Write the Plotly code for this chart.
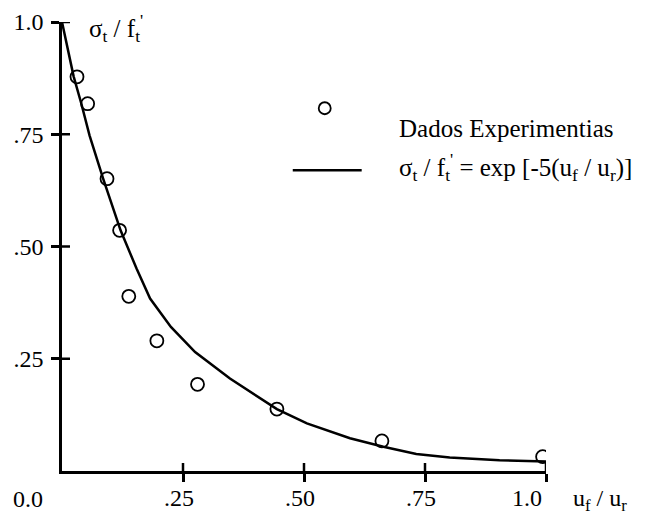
import plotly.graph_objects as go

# ---- data ----
exp_x = [0.031, 0.053, 0.093, 0.119, 0.138, 0.196, 0.280, 0.444, 0.661, 0.993]
exp_y = [0.878, 0.818, 0.651, 0.536, 0.389, 0.290, 0.193, 0.138, 0.067, 0.032]

curve_x = [0.0, 0.024, 0.040, 0.057, 0.085, 0.121, 0.154, 0.182, 0.225, 0.275,
           0.347, 0.409, 0.444, 0.506, 0.595, 0.664, 0.732, 0.801, 0.904, 1.0]
curve_y = [1.0, 0.879, 0.818, 0.747, 0.651, 0.536, 0.451, 0.384, 0.321, 0.265,
           0.206, 0.162, 0.138, 0.106, 0.073, 0.054, 0.038, 0.030, 0.024, 0.021]

tick_vals = [0.25, 0.50, 0.75, 1.0]
x_tick_text = [".25", ".50", ".75", "1.0\u00a0\u00a0\u00a0\u00a0\u00a0"]
y_tick_text = [".25", ".50", ".75", "1.0"]

FONT = "Liberation Serif"
W, H = 648, 515
L, R, T, B = 62, 101.5, 21.7, 44
PW, PH = W - L - R, H - T - B
TICKLEN = 8


def px(xpix):
    return (xpix - L) / PW


def py(ypix):
    return (H - B - ypix) / PH


fig = go.Figure()
fig.add_trace(go.Scatter(x=curve_x, y=curve_y, mode="lines",
                         line=dict(color="black", width=2.5),
                         name="σt / f't = exp [-5(uf / ur)]", showlegend=False,
                         hoverinfo="skip"))
fig.add_trace(go.Scatter(x=exp_x, y=exp_y, mode="markers",
                         marker=dict(symbol="circle-open", size=13,
                                     line=dict(color="black", width=1.8), color="black"),
                         name="Dados Experimentias", showlegend=False))

axis_common = dict(range=[0, 1], showgrid=False, zeroline=False, automargin=False,
                   tickvals=tick_vals, tickwidth=2.5, ticklen=TICKLEN,
                   tickcolor="black", ticks="outside",
                   showline=True, linecolor="black", linewidth=2.5,
                   tickfont=dict(family=FONT, size=24, color="black"))

fig.update_layout(
    width=W, height=H,
    margin=dict(l=L, r=R, t=T, b=B, pad=0, autoexpand=False),
    paper_bgcolor="white", plot_bgcolor="white",
    font=dict(family=FONT, size=24, color="black"),
    xaxis=dict(**axis_common, ticktext=x_tick_text, ticklabelshift=-4,
               ticklabelstandoff=-5),
    yaxis=dict(**axis_common, ticktext=y_tick_text, ticklabelstandoff=3),
    showlegend=False,
)

# inner half of the crossing tick marks (the axis draws the outer half)
for v in tick_vals:
    fig.add_shape(type="line", xref="x", yref="paper", x0=v, x1=v,
                  y0=0, y1=TICKLEN / PH, layer="above",
                  line=dict(color="black", width=2.5))
    fig.add_shape(type="line", xref="paper", yref="y", x0=0, x1=TICKLEN / PW,
                  y0=v, y1=v, layer="above",
                  line=dict(color="black", width=2.5))

ann_font = dict(family=FONT, size=25, color="black")
fig.add_annotation(text="0.0", xref="paper", yref="paper", x=px(28), y=py(499),
                   xanchor="center", yanchor="middle", showarrow=False,
                   font=dict(family=FONT, size=24, color="black"))
fig.add_annotation(text="u<sub>f</sub> / u<sub>r</sub>", xref="paper", yref="paper",
                   x=px(572), y=py(500), xanchor="left", yanchor="middle",
                   showarrow=False, font=dict(family=FONT, size=24, color="black"))
fig.add_annotation(text="σ<sub>t</sub> / f<sub>t</sub><sup>'</sup>", xref="paper",
                   yref="paper", x=px(87), y=py(28), xanchor="left", yanchor="middle",
                   showarrow=False, font=ann_font)

# manual legend
fig.add_shape(type="circle", xref="paper", yref="paper", xsizemode="pixel",
              ysizemode="pixel", xanchor=px(325), yanchor=py(108),
              x0=-6, x1=6, y0=-6, y1=6, line=dict(color="black", width=1.8))
fig.add_annotation(text="Dados Experimentias", xref="paper", yref="paper",
                   x=px(397), y=py(128), xanchor="left", yanchor="middle",
                   showarrow=False, font=ann_font)
fig.add_shape(type="line", xref="paper", yref="paper", x0=px(293), x1=px(362),
              y0=py(170), y1=py(170), line=dict(color="black", width=2.5))
fig.add_annotation(text="σ<sub>t</sub> / f<sub>t</sub><sup>'</sup> = exp [-5(u<sub>f</sub> / u<sub>r</sub>)]",
                   xref="paper", yref="paper", x=px(397), y=py(167),
                   xanchor="left", yanchor="middle", showarrow=False, font=ann_font)

fig.write_html("out.html")
